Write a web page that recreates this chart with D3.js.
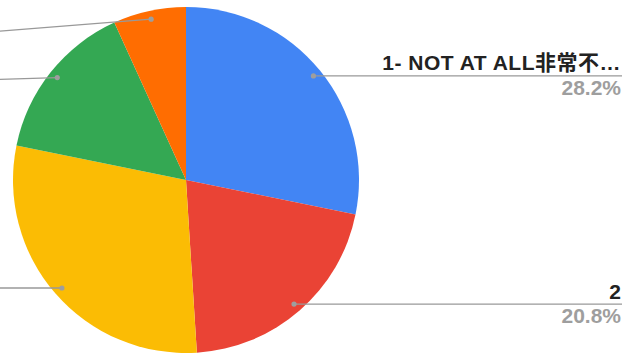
<!DOCTYPE html>
<html>
<head>
<meta charset="utf-8">
<script src="https://cdn.jsdelivr.net/npm/d3@7"></script>
<style>
  html, body { margin: 0; padding: 0; background: #fff; }
  svg { display: block; }
</style>
</head>
<body>
<svg id="chart" width="625" height="354"></svg>
<script>
// Survey answers (share of respondents, %)
const categories = ["1- NOT AT ALL非常不…", "2", "3", "4", "5"];
const values = [28.2, 20.8, 29.2, 15.0, 6.8];
const colors = ["#4285f4", "#ea4335", "#fbbc04", "#34a853", "#ff6d01"];
// Vertical offset of each left-hand label row relative to its anchor dot
const labelShift = [0, 0, 0, 3, 15];

const W = 625, H = 354;
const cx = 186, cy = 180, R = 173;
const labelRight = 621;
const FONT = "Arial, 'Liberation Sans', 'Noto Sans CJK SC', sans-serif";

const svg = d3.select("#chart");
const g = svg.append("g").attr("transform", `translate(${cx},${cy})`);

const data = categories.map((c, i) => ({ name: c, value: values[i], color: colors[i], shift: labelShift[i] }));
const pie = d3.pie().value(d => d.value).sort(null).startAngle(0).endAngle(2 * Math.PI);
const arcs = pie(data);

const arc = d3.arc().innerRadius(0).outerRadius(R);
const dotArc = d3.arc().innerRadius(R * 0.951).outerRadius(R * 0.951);

g.selectAll("path.slice")
  .data(arcs)
  .join("path")
  .attr("class", "slice")
  .attr("d", arc)
  .attr("fill", d => d.data.color);

const fmt = d3.format(".1f");

arcs.forEach(a => {
  const [dx, dy] = dotArc.centroid(a);
  const x = cx + dx, y = cy + dy;
  const mid = (a.startAngle + a.endAngle) / 2;
  const right = mid < Math.PI;
  const lg = svg.append("g");
  if (right) {
    lg.append("line")
      .attr("x1", x).attr("y1", y)
      .attr("x2", labelRight + 1).attr("y2", y)
      .attr("stroke", "#999").attr("stroke-width", 1.3);
    lg.append("text")
      .attr("x", labelRight).attr("y", y - 5.5)
      .attr("text-anchor", "end")
      .attr("font-family", FONT)
      .attr("font-weight", "bold")
      .attr("font-size", 21)
      .attr("letter-spacing", a.data.name.length > 2 ? 0.5 : 0)
      .attr("fill", "#222")
      .text(a.data.name);
    lg.append("text")
      .attr("x", labelRight).attr("y", y + 19)
      .attr("text-anchor", "end")
      .attr("font-family", FONT)
      .attr("font-weight", "bold")
      .attr("font-size", 21)
      .attr("fill", "#9e9e9e")
      .text(fmt(a.data.value) + "%");
  } else {
    // left-hand labels sit beyond the visible area; only their leaders show
    const ex = -40, ey = y + a.data.shift;
    lg.append("path")
      .attr("d", d3.line()([[x, y], [ex, ey], [ex - 200, ey]]))
      .attr("fill", "none")
      .attr("stroke", "#999").attr("stroke-width", 1.3);
  }
  lg.append("circle")
    .attr("cx", x).attr("cy", y).attr("r", 2.6)
    .attr("fill", "#9e9e9e");
});
</script>
</body>
</html>
